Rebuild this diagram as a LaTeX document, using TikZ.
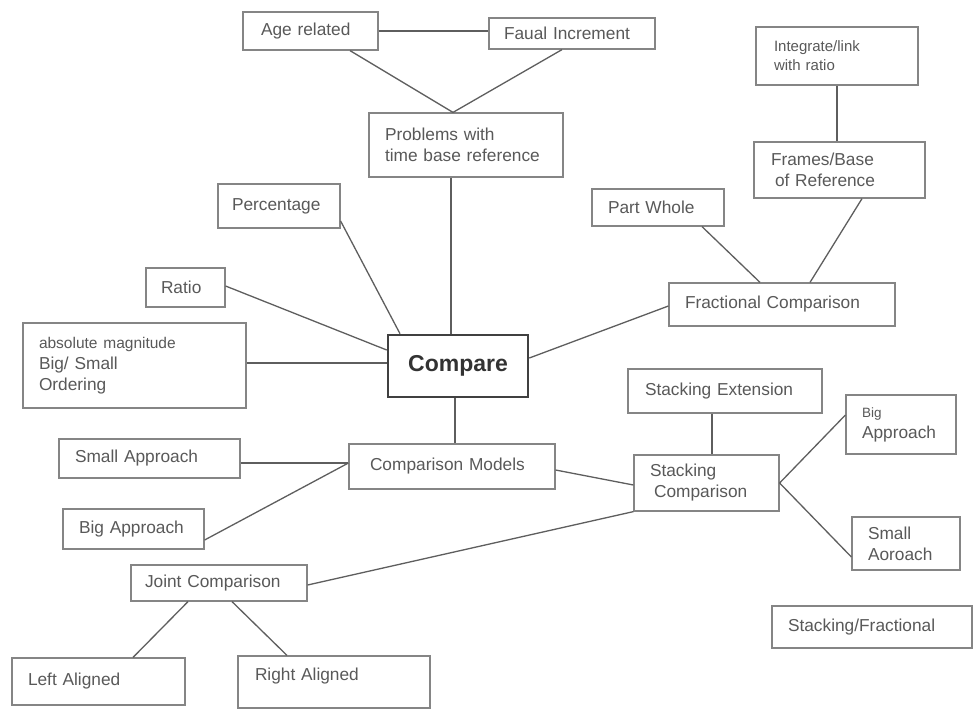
\documentclass[tikz,border=0pt]{standalone}
\usepackage{fontspec}
\setmainfont{Liberation Sans}
\usetikzlibrary{calc}
\definecolor{boxc}{HTML}{858585}
\definecolor{linec}{HTML}{5E5E5E}
\definecolor{txtc}{HTML}{595959}
\tikzset{
  bx/.style={draw=boxc, line width=1.2pt, rectangle, align=left, text=txtc,
    font=\fontsize{17.3}{21}\selectfont, inner ysep=0pt},
  cn/.style={draw=linec, line width=1.3pt},
  smallt/.style={font=\fontsize{15}{19}\selectfont}
}
\begin{document}
\begin{tikzpicture}[x=1pt,y=-1pt]
\useasboundingbox[fill=white] (0,0) rectangle (973,710);

% top
\node[bx, inner xsep=18pt, text width=99pt, minimum height=38pt] (age) at (310.5,31) {Age related};
\node[bx, inner xsep=15pt, text width=136pt, minimum height=31pt] (faual) at (572,33.5) {Faual Increment};
\node[bx, inner xsep=16pt, text width=162pt, minimum height=64pt] (prob) at (466,145) {Problems with\\time base reference};

% right top
\node[bx, smallt, inner xsep=18pt, text width=126pt, minimum height=58pt] (integ) at (837,56) {Integrate/link\\with ratio};
\node[bx, inner xsep=17pt, text width=137pt, minimum height=56pt] (frames) at (839.5,170) {Frames/Base\\\hspace*{4pt}of Reference};
\node[bx, inner xsep=16pt, text width=100pt, minimum height=37pt] (part) at (658,207.5) {Part Whole};
\node[bx, inner xsep=16pt, text width=194pt, minimum height=43pt] (frac) at (782,304.5) {Fractional Comparison};

% left
\node[bx, inner xsep=14pt, text width=94pt, minimum height=44pt] (perc) at (279,206) {Percentage};
\node[bx, inner xsep=15pt, text width=49pt, minimum height=39pt] (ratio) at (185.5,287.5) {Ratio};
\node[bx, inner xsep=16pt, text width=191pt, minimum height=85pt] (abs) at (134.5,365.5)
  {{\fontsize{15.5}{19}\selectfont absolute magnitude}\\Big/ Small\\Ordering};

% center
\node[draw=black!75, line width=2.6pt, minimum width=140pt, minimum height=62pt,
  text=black!80, font=\fontsize{23}{27}\selectfont\bfseries] (cmp) at (458,366) {Compare};

% lower
\node[bx, inner xsep=17pt, text width=160pt, minimum height=44pt] (sext) at (725,391) {Stacking Extension};
\node[bx, inner xsep=16pt, text width=78pt, minimum height=59pt] (bigR) at (901,424.5)
  {{\fontsize{13.5}{17}\selectfont Big}\\Approach};
\node[bx, inner xsep=16pt, text width=149pt, minimum height=39pt] (smallL) at (149.5,458.5) {Small Approach};
\node[bx, inner xsep=21pt, text width=164pt, minimum height=45pt] (models) at (452,466.5) {Comparison Models};
\node[bx, inner xsep=16pt, text width=113pt, minimum height=56pt] (scomp) at (706.5,483) {Stacking\\\hspace*{4pt}Comparison};
\node[bx, inner xsep=16pt, text width=76pt, minimum height=53pt] (smallR) at (906,543.5) {Small\\Aoroach};
\node[bx, inner xsep=16pt, text width=109pt, minimum height=40pt] (bigL) at (133.5,529) {Big Approach};
\node[bx, inner xsep=14pt, text width=148pt, minimum height=36pt] (joint) at (219,583) {Joint Comparison};
\node[bx, inner xsep=16pt, text width=168pt, minimum height=42pt] (sfrac) at (872,627) {Stacking/Fractional};
\node[bx, inner xsep=16pt, text width=141pt, minimum height=47pt] (left) at (98.5,681.5) {Left Aligned};
\node[bx, inner xsep=17pt, text width=158pt, minimum height=52pt, text depth=16pt] (right) at (334,682) {Right Aligned};

% connectors
\draw[cn] (age.east) -- (faual.west |- age.east);
\draw[cn] (age.south -| 350,0) -- (prob.north -| 453,0);
\draw[cn] (faual.south -| 562,0) -- (prob.north -| 453,0);
\draw[cn] (prob.south -| 451,0) -- (cmp.north -| 451,0);
\draw[cn] (perc.east |- 0,221) -- (cmp.north -| 400,0);
\draw[cn] (ratio.east |- 0,286) -- (cmp.west |- 0,350);
\draw[cn] (abs.east |- 0,363) -- (cmp.west |- 0,363);
\draw[cn] (cmp.east |- 0,358) -- (frac.west |- 0,306);
\draw[cn] (part.south -| 702,0) -- (frac.north -| 760,0);
\draw[cn] (frames.south -| 862,0) -- (frac.north -| 810,0);
\draw[cn] (integ.south) -- (frames.north -| integ.south);
\draw[cn] (cmp.south -| 455,0) -- (models.north -| 455,0);
\draw[cn] (smallL.east |- 0,463) -- (models.west |- 0,463);
\draw[cn] (bigL.east |- 0,540) -- (models.west |- 0,463);
\draw[cn] (models.east |- 0,470) -- (scomp.west |- 0,485);
\draw[cn] (joint.east |- 0,585) -- (scomp.south west);
\draw[cn] (joint.south -| 188,0) -- (left.north -| 133,0);
\draw[cn] (joint.south -| 232,0) -- (right.north -| 287,0);
\draw[cn] (sext.south -| 712,0) -- (scomp.north -| 712,0);
\draw[cn] (scomp.east |- 0,483) -- (bigR.west |- 0,415);
\draw[cn] (scomp.east |- 0,483) -- (smallR.west |- 0,557);
\end{tikzpicture}
\end{document}
